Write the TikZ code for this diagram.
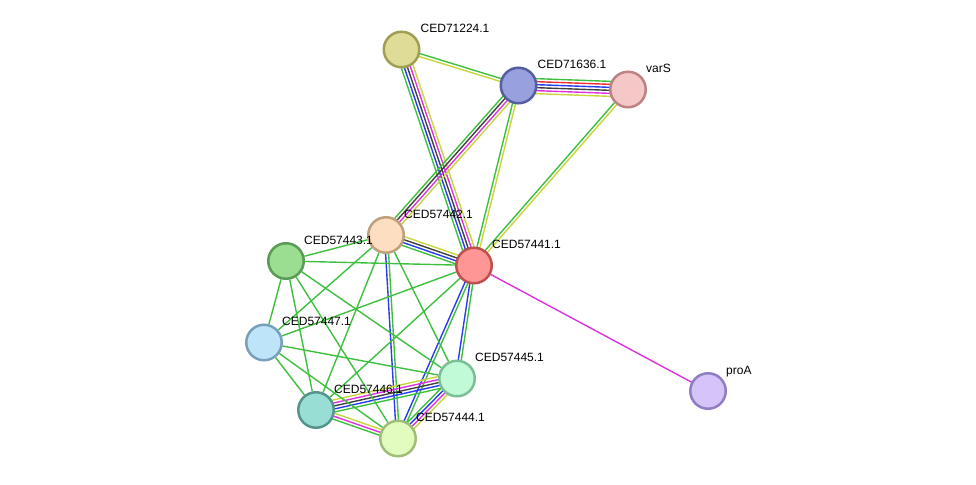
\documentclass[tikz,border=0pt]{standalone}
\usepackage{fontspec}
\setmainfont{Liberation Sans}
\usetikzlibrary{calc, backgrounds}

\definecolor{evgreen}{RGB}{62, 192, 62}
\definecolor{evyellow}{RGB}{200, 214, 60}
\definecolor{evmagenta}{RGB}{221, 51, 221}
\definecolor{evblack}{RGB}{64, 64, 64}
\definecolor{evblue}{RGB}{40, 60, 240}
\definecolor{evred}{RGB}{240, 48, 48}

% parallel evidence lines between two proteins
\newcommand{\ppilink}[3]{%
  \foreach \c [count=\n] in {#3} {\xdef\nlines{\n}}
  \foreach \c [count=\i] in {#3} {
    \pgfmathsetmacro\off{(\i-(\nlines+1)/2)*3}
    \draw[edge, \c] ($(#1)!\off pt!90:(#2)$) -- ($(#2)!\off pt!-90:(#1)$);
  }
}

\begin{document}
\begin{tikzpicture}[x=1pt, y=-1pt,
    prot/.style={circle, line width=2.5pt, minimum size=35.5pt, inner sep=0pt},
    lbl/.style={anchor=base west, inner sep=0pt, font=\fontsize{12}{14}\selectfont},
    edge/.style={line width=1.4pt}
  ]
    \useasboundingbox (0,0) rectangle (976,484);

    \node[prot, fill={rgb,255:red,222;green,220;blue,150}, draw={rgb,255:red,160;green,158;blue,82}]
      (c71224) at (401.5,49.5) {};
    \node[prot, fill={rgb,255:red,152;green,160;blue,222}, draw={rgb,255:red,85;green,95;blue,160}]
      (c71636) at (518.5,85.5) {};
    \node[prot, fill={rgb,255:red,245;green,200;blue,200}, draw={rgb,255:red,190;green,130;blue,130}]
      (vars) at (628,89.5) {};
    \node[prot, fill={rgb,255:red,253;green,222;blue,192}, draw={rgb,255:red,190;green,160;blue,125}]
      (c57442) at (386,235) {};
    \node[prot, fill={rgb,255:red,155;green,222;blue,145}, draw={rgb,255:red,90;green,155;blue,85}]
      (c57443) at (286,261) {};
    \node[prot, fill={rgb,255:red,255;green,150;blue,150}, draw={rgb,255:red,190;green,80;blue,80}]
      (c57441) at (474,265.5) {};
    \node[prot, fill={rgb,255:red,190;green,228;blue,250}, draw={rgb,255:red,120;green,160;blue,185}]
      (c57447) at (264,342.5) {};
    \node[prot, fill={rgb,255:red,192;green,250;blue,215}, draw={rgb,255:red,125;green,190;blue,150}]
      (c57445) at (457,378.5) {};
    \node[prot, fill={rgb,255:red,152;green,222;blue,212}, draw={rgb,255:red,85;green,150;blue,140}]
      (c57446) at (316,410) {};
    \node[prot, fill={rgb,255:red,225;green,252;blue,190}, draw={rgb,255:red,160;green,190;blue,120}]
      (c57444) at (398,438.5) {};
    \node[prot, fill={rgb,255:red,212;green,196;blue,250}, draw={rgb,255:red,145;green,125;blue,195}]
      (proa) at (708,391) {};

    \node[lbl] (l71224) at ($(c71224)+(19,-17)$) {CED71224.1};
    \node[lbl] (l71636) at ($(c71636)+(19,-17)$) {CED71636.1};
    \node[lbl] (lvars) at ($(vars)+(18,-17)$) {varS};
    \node[lbl] (l57442) at ($(c57442)+(18,-17)$) {CED57442.1};
    \node[lbl] (l57443) at ($(c57443)+(18,-17)$) {CED57443.1};
    \node[lbl] (l57441) at ($(c57441)+(18,-17)$) {CED57441.1};
    \node[lbl] (l57447) at ($(c57447)+(18,-17)$) {CED57447.1};
    \node[lbl] (l57445) at ($(c57445)+(18,-17)$) {CED57445.1};
    \node[lbl] (l57446) at ($(c57446)+(18,-17)$) {CED57446.1};
    \node[lbl] (l57444) at ($(c57444)+(18,-17)$) {CED57444.1};
    \node[lbl] (lproa) at ($(proa)+(18,-17)$) {proA};

    \begin{scope}[on background layer]
      \ppilink{c71224}{c71636}{evyellow, evgreen}
      \ppilink{c71224}{c57441}{evgreen, evblue, evblack, evmagenta, evyellow}
      \ppilink{c71636}{vars}{evyellow, evmagenta, evblack, evblue, evred, evgreen}
      \ppilink{c71636}{c57442}{evgreen, evblack, evmagenta, evyellow}
      \ppilink{c71636}{c57441}{evgreen, evyellow}
      \ppilink{vars}{c57441}{evgreen, evyellow}
      \ppilink{c57442}{c57441}{evgreen, evblue, evblack, evyellow}
      \ppilink{c57442}{c57444}{evblue, evgreen}
      \ppilink{c57441}{c57445}{evblue, evgreen}
      \ppilink{c57441}{c57444}{evblue, evgreen}
      \ppilink{c57446}{c57445}{evgreen, evblue, evblack, evmagenta, evyellow}
      \ppilink{c57446}{c57444}{evgreen, evmagenta, evyellow}
      \ppilink{c57445}{c57444}{evgreen, evblue, evmagenta, evyellow}
      \ppilink{c57441}{proa}{evmagenta}
      % single green links
      \foreach \a/\b in {c57443/c57442, c57443/c57441, c57443/c57447, c57443/c57446,
          c57443/c57444, c57443/c57445, c57442/c57447, c57442/c57446, c57442/c57445,
          c57441/c57447, c57441/c57446, c57447/c57446, c57447/c57444, c57447/c57445}
        \draw[edge, evgreen] (\a) -- (\b);
    \end{scope}
  \end{tikzpicture}
\end{document}
